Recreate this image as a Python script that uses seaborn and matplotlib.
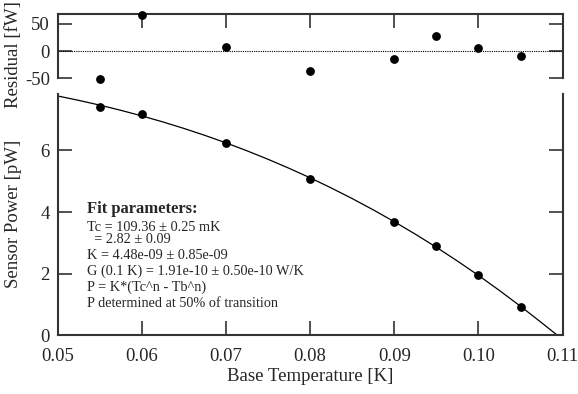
import seaborn as sns
import matplotlib.pyplot as plt
import pandas as pd

# measured points (base temperature [K], sensor power [pW], residual [fW])
base_temp = [0.055, 0.060, 0.070, 0.080, 0.090, 0.095, 0.100, 0.105]
sensor_power = [7.420, 7.187, 6.255, 5.077, 3.675, 2.887, 1.953, 0.936]
residual = [-51, 66, 8, -36, -14, 27, 6, -10]

# fitted curve
fit_temp = [0.0500, 0.0525, 0.0550, 0.0575, 0.0600, 0.0625, 0.0650, 0.0675,
            0.0700, 0.0725, 0.0750, 0.0775, 0.0800, 0.0825, 0.0850, 0.0875,
            0.0900, 0.0925, 0.0950, 0.0975, 0.1000, 0.1025, 0.1050, 0.1075,
            0.1094]
fit_power = [7.767, 7.625, 7.471, 7.303, 7.121, 6.926, 6.715, 6.489,
             6.247, 5.989, 5.714, 5.422, 5.113, 4.785, 4.439, 4.074,
             3.689, 3.285, 2.860, 2.414, 1.947, 1.457, 0.946, 0.413,
             0.0]

fit_lines = [
    "Tc = 109.36 \u00b1 0.25 mK",
    "  = 2.82 \u00b1 0.09",
    "K = 4.48e-09 \u00b1 0.85e-09",
    "G (0.1 K) = 1.91e-10 \u00b1 0.50e-10 W/K",
    "P = K*(Tc^n - Tb^n)",
    "P determined at 50% of transition",
]

sns.set_theme(style="ticks")
plt.rcParams['font.family'] = ['Liberation Serif', 'DejaVu Serif']
plt.rcParams['axes.unicode_minus'] = False

points = pd.DataFrame({"T": base_temp, "P": sensor_power, "R": residual})
fit = pd.DataFrame({"T": fit_temp, "P": fit_power})

fig = plt.figure(figsize=(5.78, 3.94), dpi=100)
ax1 = fig.add_axes([0.0995, 0.8013, 0.874, 0.1619])
ax2 = fig.add_axes([0.0995, 0.1485, 0.874, 0.6129])

spine_col = '#333333'

# residual panel
ax1.axhline(0, color='black', lw=0.8, ls=(0, (1, 1)), zorder=1)
sns.scatterplot(data=points, x="T", y="R", ax=ax1, color='black', s=40,
                edgecolor='black', linewidth=0, zorder=3, clip_on=False)
ax1.set_xlim(0.05, 0.11)
ax1.set_ylim(-50, 67)
ax1.set_yticks([-50, 0, 50])
ax1.set_xticks([0.05, 0.06, 0.07, 0.08, 0.09, 0.10, 0.11])
ax1.spines['bottom'].set_visible(False)
ax1.tick_params(axis='x', top=True, bottom=False, labelbottom=False,
                direction='in', length=10, width=1.2, color=spine_col)
ax1.tick_params(axis='y', left=True, right=True, direction='in', length=10,
                width=1.2, color=spine_col, labelsize=13.5, pad=5.5)
ax1.set_xlabel("")
ax1.set_ylabel("Residual [fW]", fontsize=13.5)

# power panel
sns.lineplot(data=fit, x="T", y="P", ax=ax2, color='black', lw=0.9, zorder=2)
sns.scatterplot(data=points, x="T", y="P", ax=ax2, color='black', s=40,
                edgecolor='black', linewidth=0, zorder=3)
ax2.set_xlim(0.05, 0.11)
ax2.set_ylim(0, 7.83)
ax2.set_yticks([0, 2, 4, 6])
ax2.set_xticks([0.05, 0.06, 0.07, 0.08, 0.09, 0.10, 0.11])
ax2.set_xticklabels(["0.05", "0.06", "0.07", "0.08", "0.09", "0.10", "0.11"])
ax2.spines['top'].set_visible(False)
ax2.tick_params(axis='x', bottom=True, top=False, direction='in', length=10,
                width=1.2, color=spine_col, labelsize=13.5, pad=9)
ax2.tick_params(axis='y', left=True, right=True, direction='in', length=10,
                width=1.2, color=spine_col, labelsize=13.5, pad=5.5)
ax2.set_xlabel("Base Temperature [K]", fontsize=13.5, labelpad=2)
ax2.set_ylabel("Sensor Power [pW]", fontsize=13.5)

for ax in (ax1, ax2):
    for sp in ax.spines.values():
        sp.set_color(spine_col)
        sp.set_linewidth(1.5)

ax1.yaxis.set_label_coords(-0.070, 0.365)
ax2.yaxis.set_label_coords(-0.070, 0.503)

# fit parameter box
fig.text(87 / 578, 1 - 212.7 / 394, "Fit parameters:", fontsize=12,
         fontweight='bold', va='baseline')
baselines = [230.7, 243.3, 259.0, 275.0, 291.0, 307.3]
for txt, yb in zip(fit_lines, baselines):
    fig.text(87 / 578, 1 - yb / 394, txt, fontsize=10.3, va='baseline')

fig.savefig("out.png", dpi=100)
